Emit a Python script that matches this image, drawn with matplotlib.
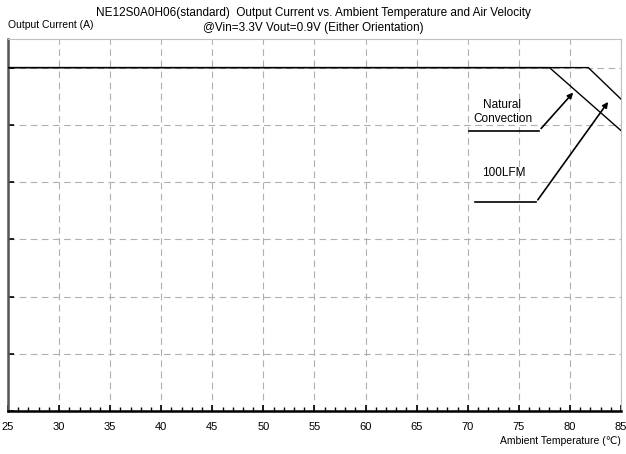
import numpy as np
import matplotlib.pyplot as plt
from matplotlib.ticker import MultipleLocator

plt.rcParams['font.family'] = ['Liberation Sans', 'DejaVu Sans']

# derating curves (temperature in C, current in A)
nat_temp = [25, 78, 85]
nat_curr = [6.0, 6.0, 4.9]
lfm_temp = [25, 81.8, 85]
lfm_curr = [6.0, 6.0, 5.45]

x_ticks = list(range(25, 90, 5))
y_ticks = [0, 1, 2, 3, 4, 5, 6]

fig = plt.figure(figsize=(6.26, 4.54), dpi=100)
ax = fig.add_axes([8/626, 1 - 411/454, 613/626, 372/454])

ax.plot(nat_temp, nat_curr, color='black', linewidth=1.0, zorder=3)
ax.plot(lfm_temp, lfm_curr, color='black', linewidth=1.0, zorder=3)

ax.set_xlim(25, 85)
ax.set_ylim(0, 6.5)
ax.set_xticks(x_ticks)
ax.xaxis.set_minor_locator(MultipleLocator(1))
ax.set_yticks(y_ticks)
ax.set_yticklabels([])
ax.tick_params(axis='x', which='major', direction='in', length=4, width=1.2, labelsize=8, pad=8)
ax.tick_params(axis='x', which='minor', direction='in', length=3, width=1)
ax.tick_params(axis='y', direction='in', length=4, width=1.2)

ax.grid(True, which='major', color='#b0b0b0', linestyle=(0, (6, 4)), linewidth=0.8)

ax.spines['left'].set_color('#555555')
ax.spines['left'].set_linewidth(1.8)
ax.spines['bottom'].set_color('black')
ax.spines['bottom'].set_linewidth(1.8)
ax.spines['top'].set_color('#c0c0c0')
ax.spines['right'].set_color('#c0c0c0')

# annotations
ax.plot([70.1, 77.0], [4.9, 4.9], color='black', linewidth=1.2)
ax.annotate('', xy=(80.5, 5.6), xytext=(77.0, 4.9),
            arrowprops=dict(arrowstyle='-|>', color='black', lw=1.2, mutation_scale=8))
ax.text(73.4, 5.22, 'Natural\nConvection', ha='center', va='center', fontsize=8.5)

ax.plot([70.7, 76.7], [3.65, 3.65], color='black', linewidth=1.2)
ax.annotate('', xy=(83.9, 5.44), xytext=(76.7, 3.65),
            arrowprops=dict(arrowstyle='-|>', color='black', lw=1.2, mutation_scale=8))
ax.text(73.5, 4.15, '100LFM', ha='center', va='center', fontsize=8.5)

fig.text(313/626, 1 - 13/454, 'NE12S0A0H06(standard)  Output Current vs. Ambient Temperature and Air Velocity',
         ha='center', va='center', fontsize=8.5)
fig.text(313/626, 1 - 28/454, '@Vin=3.3V Vout=0.9V (Either Orientation)',
         ha='center', va='center', fontsize=8.5)
fig.text(8/626, 1 - 25/454, 'Output Current (A)', ha='left', va='center', fontsize=7.5)
fig.text(621/626, 1 - 441/454, 'Ambient Temperature (℃)', ha='right', va='center', fontsize=7.5)

fig.savefig('out.png', dpi=100)
